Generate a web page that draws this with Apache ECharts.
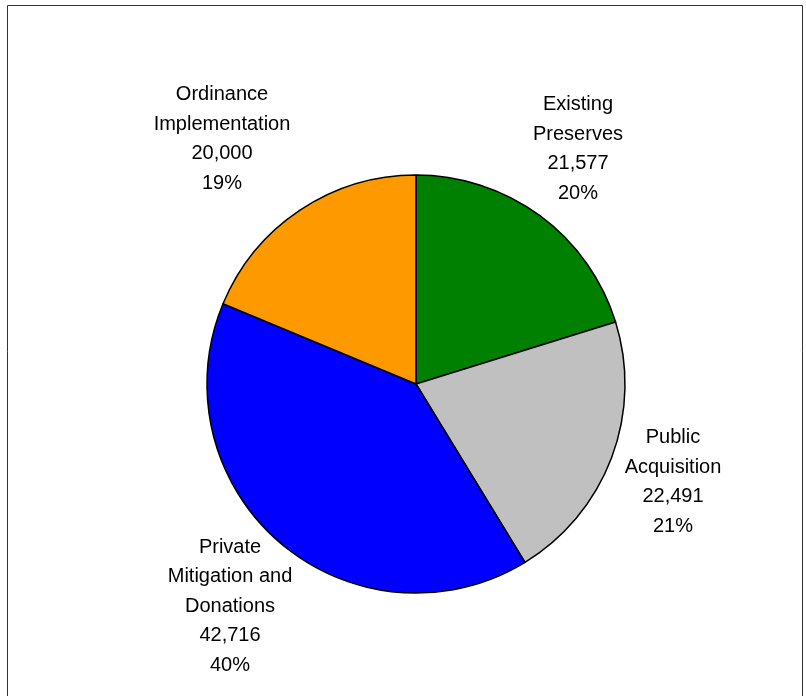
<!DOCTYPE html>
<html>
<head>
<meta charset="utf-8">
<script src="https://cdn.jsdelivr.net/npm/echarts@6/dist/echarts.min.js"></script>
<style>
  html, body { margin: 0; padding: 0; background: #fff; }
  #chart { width: 806px; height: 696px; }
</style>
</head>
<body>
<div id="chart"></div>
<script>
// slice names and acres, clockwise from 12 o'clock
const names = ['Existing\nPreserves', 'Public\nAcquisition', 'Private\nMitigation and\nDonations', 'Ordinance\nImplementation'];
const values = [21577, 22491, 42716, 20000];
const colors = ['#008000', '#C0C0C0', '#0000FF', '#FF9900'];
// label block centres
const labelPos = [[578, 149], [673, 482], [230, 606], [222, 139]];

let myChart = echarts.init(document.getElementById('chart'));
let option = {
  animation: false,
  graphic: [{
    type: 'rect',
    shape: { x: 7.5, y: 5.5, width: 795, height: 700 },
    style: { fill: 'none', stroke: '#333', lineWidth: 1 },
    silent: true
  }],
  series: [{
    type: 'pie',
    center: [416, 384],
    radius: 209,
    startAngle: 90,
    clockwise: true,
    avoidLabelOverlap: false,
    percentPrecision: 0,
    itemStyle: { borderColor: '#000', borderWidth: 1.5 },
    label: {
      show: true,
      position: 'outside',
      fontFamily: 'Liberation Sans, Arial, sans-serif',
      fontSize: 20,
      lineHeight: 29.5,
      color: '#000',
      align: 'center',
      formatter: function (p) {
        return p.name + '\n' + p.value.toLocaleString('en-US') + '\n' + Math.round(p.percent) + '%';
      }
    },
    labelLine: { show: false },
    labelLayout: function (p) {
      let pos = labelPos[p.dataIndex];
      return { x: pos[0], y: pos[1], align: 'center', verticalAlign: 'middle' };
    },
    emphasis: { disabled: true },
    data: names.map(function (n, i) {
      return { name: n, value: values[i], itemStyle: { color: colors[i] } };
    })
  }]
};
myChart.setOption(option);
window.addEventListener('resize', function () { myChart.resize(); });
</script>
</body>
</html>
